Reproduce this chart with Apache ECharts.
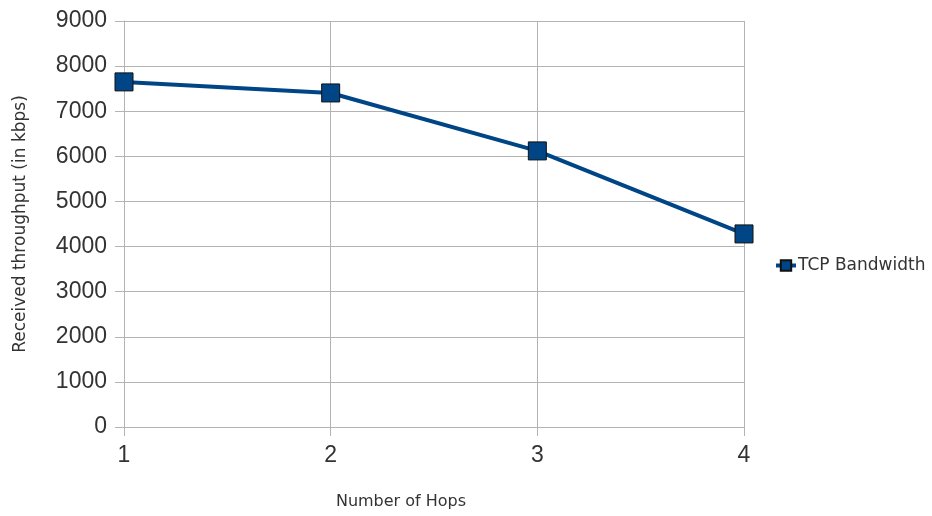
<!DOCTYPE html>
<html><head><meta charset="utf-8">
<script src="https://cdn.jsdelivr.net/npm/echarts@6/dist/echarts.min.js"></script>
<style>html,body{margin:0;padding:0;background:#fff}#c{width:932px;height:516px}</style>
</head><body><div id="c"></div>
<script>
const categories = ['1', '2', '3', '4'];
const tcpBandwidth = [7650, 7405, 6120, 4280];
const seriesName = 'TCP Bandwidth';

const titleFont = { fontFamily: 'DejaVu Sans', fontSize: 16, color: '#333' };
const chart = echarts.init(document.getElementById('c'));
chart.setOption({
  animation: false,
  backgroundColor: '#ffffff',
  grid: { left: 124, right: 188, top: 21, bottom: 89, containLabel: false },
  legend: {
    data: [seriesName], orient: 'vertical', left: 769, top: 252,
    itemWidth: 20, itemHeight: 13, itemGap: 4,
    lineStyle: { width: 4, color: '#004586' },
    textStyle: { fontFamily: 'DejaVu Sans', fontSize: 17, color: '#333', padding: [0, 0, 0, -3] }
  },
  xAxis: {
    type: 'category', data: categories, boundaryGap: false,
    name: 'Number of Hops', nameLocation: 'middle', nameGap: 67,
    nameTextStyle: Object.assign({}, titleFont, { padding: [0, 66, 0, 0] }),
    axisLine: { lineStyle: { color: '#b3b3b3', width: 1 } },
    axisTick: { show: true, length: 9, lineStyle: { color: '#b3b3b3' } },
    axisLabel: { fontFamily: 'Liberation Sans', fontSize: 23, color: '#333', margin: 17 },
    splitLine: { show: true, lineStyle: { color: '#b3b3b3', width: 1 } }
  },
  yAxis: {
    type: 'value', min: 0, max: 9000, interval: 1000,
    name: 'Received throughput (in kbps)', nameLocation: 'middle', nameGap: 95,
    nameTextStyle: { fontFamily: 'DejaVu Sans', fontSize: 17, color: '#333' },
    axisLine: { show: true, lineStyle: { color: '#b3b3b3', width: 1 } },
    axisTick: { show: true, length: 9, lineStyle: { color: '#b3b3b3' } },
    axisLabel: { fontFamily: 'Liberation Sans', fontSize: 23, color: '#333', margin: 17,
      formatter: v => String(v) },
    splitLine: { show: true, lineStyle: { color: '#b3b3b3', width: 1 } }
  },
  series: [{
    name: seriesName, type: 'line', data: tcpBandwidth,
    symbol: 'rect', symbolSize: 18,
    lineStyle: { color: '#004586', width: 4 },
    itemStyle: { color: '#004586', borderColor: '#111', borderWidth: 1 }
  }]
});
</script></body></html>
